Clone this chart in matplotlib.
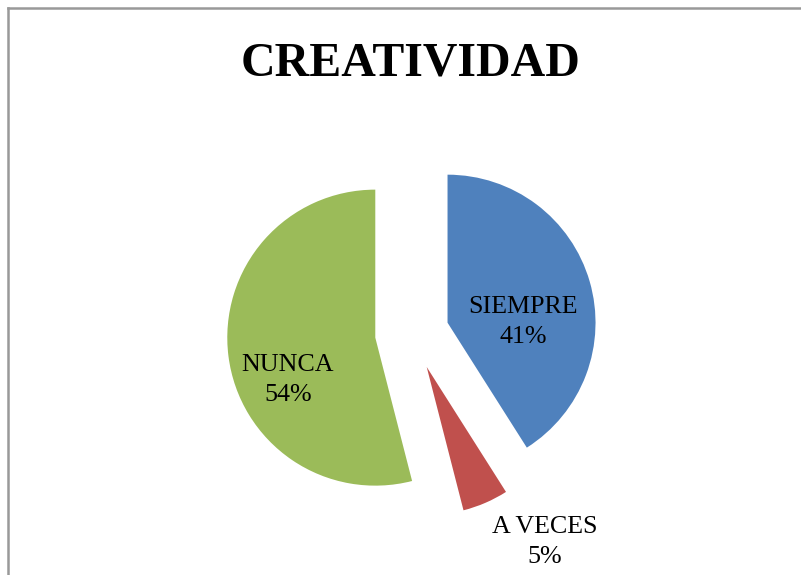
import matplotlib
matplotlib.use("Agg")
import matplotlib.pyplot as plt
from matplotlib.lines import Line2D

categories = ["SIEMPRE", "A VECES", "NUNCA"]
percent = [41, 5, 54]
colors = ["#4F81BD", "#C0504D", "#9BBB59"]
title = "CREATIVIDAD"

W, H = 801, 575
fig = plt.figure(figsize=(W / 100, H / 100), dpi=100)
ax = fig.add_axes([0, 0, 1, 1])

def py(y):
    return H - y

explode = [37, 37, 37]
wedges, _ = ax.pie(percent, colors=colors, startangle=90, counterclock=False,
                   radius=148, center=(412, py(333)), explode=explode,
                   wedgeprops=dict(linewidth=0), frame=True)
ax.set_xlim(0, W)
ax.set_ylim(0, H)
ax.set_aspect("equal")
ax.axis("off")

serif = ["Liberation Serif", "DejaVu Serif"]
label_pos = [(523, 342.7), (545, 563), (288, 400.7)]
for cat, p, (lx, ly) in zip(categories, percent, label_pos):
    ax.text(lx, py(ly), f"{cat}\n{p}%", ha="center", va="baseline",
            family=serif, fontsize=18.7, linespacing=1.45, color="black")

ax.text(411, py(76), title, ha="center", va="baseline", family=serif,
        fontsize=34.5, fontweight="bold", color="black")

# chart border (left and top visible)
fig.add_artist(Line2D([8 / W, 8 / W], [0, 1 - 8 / H], transform=fig.transFigure,
                      color="#999999", linewidth=1.8))
fig.add_artist(Line2D([8 / W, 1], [1 - 8 / H, 1 - 8 / H], transform=fig.transFigure,
                      color="#999999", linewidth=1.8))

fig.savefig("out.png", dpi=100)
